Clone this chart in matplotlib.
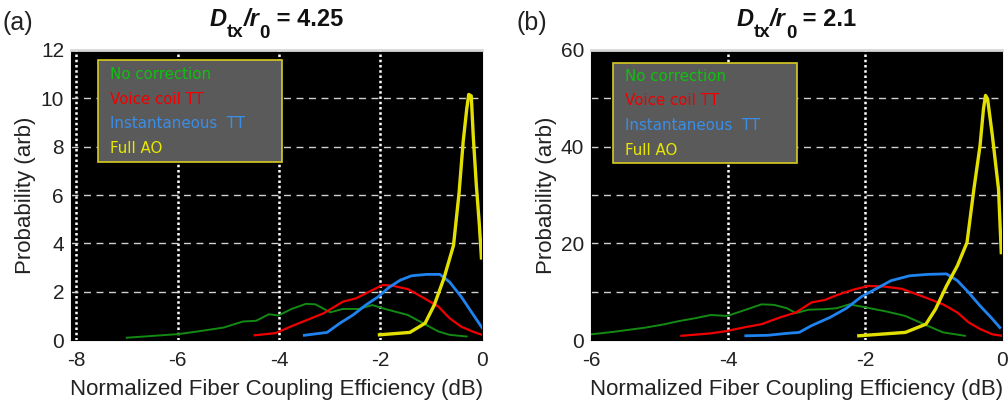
import matplotlib as mpl
import matplotlib.pyplot as plt
from matplotlib.patches import Rectangle
from matplotlib.transforms import IdentityTransform

mpl.rcParams.update(
    {
        "font.family": "sans-serif",
        "font.sans-serif": ["Liberation Sans", "DejaVu Sans"],
        "axes.unicode_minus": False,
    }
)

# ---- panel (a): D_tx/r0 = 4.25 ----
a_green_x = [-7.0, -5.98, -5.60, -5.09, -4.71, -4.45, -4.20, -4.01, -3.75, -3.47, -3.28, -2.99,
             -2.74, -2.42, -2.16, -1.91, -1.46, -1.16, -0.86, -0.64, -0.3]
a_green_y = [0.1, 0.25, 0.36, 0.52, 0.77, 0.80, 1.07, 1.02, 1.29, 1.50, 1.48, 1.15,
             1.29, 1.29, 1.45, 1.29, 1.04, 0.70, 0.36, 0.22, 0.15]
a_red_x = [-4.48, -4.07, -3.69, -3.44, -3.12, -2.74, -2.48, -2.16, -1.95, -1.76, -1.46, -1.16,
           -0.86, -0.64, -0.41, -0.19, 0.0]
a_red_y = [0.2, 0.29, 0.63, 0.84, 1.11, 1.59, 1.73, 2.07, 2.28, 2.25, 2.11, 1.76,
           1.39, 0.91, 0.56, 0.36, 0.22]
a_blue_x = [-3.5, -3.05, -2.80, -2.54, -2.29, -2.04, -1.84, -1.61, -1.39, -1.09, -0.83, -0.64,
            -0.41, -0.19, 0.0]
a_blue_y = [0.2, 0.32, 0.70, 1.04, 1.45, 1.80, 2.17, 2.48, 2.66, 2.72, 2.72, 2.41,
            1.80, 1.11, 0.52]
a_yellow_x = [-2.02, -1.42, -1.12, -0.94, -0.75, -0.56, -0.45, -0.37, -0.30, -0.26, -0.21, -0.17,
              -0.11, -0.05, -0.01]
a_yellow_y = [0.22, 0.32, 0.70, 1.45, 2.55, 3.92, 6.1, 8.2, 9.55, 10.16, 10.1, 8.4,
              6.4, 4.75, 3.4]

# ---- panel (b): D_tx/r0 = 2.1 ----
b_green_x = [-6.0, -5.68, -5.20, -4.92, -4.73, -4.49, -4.25, -4.01, -3.78, -3.51, -3.33, -3.14,
             -3.01, -2.82, -2.59, -2.41, -2.23, -2.0, -1.68, -1.41, -1.14, -0.86, -0.54]
b_green_y = [1.2, 1.7, 2.6, 3.3, 3.9, 4.5, 5.2, 5.0, 6.1, 7.4, 7.3, 6.6,
             5.6, 6.3, 6.4, 6.6, 7.4, 6.8, 5.9, 5.0, 3.3, 1.6, 0.9]
b_red_x = [-4.68, -4.25, -4.01, -3.78, -3.51, -3.24, -3.01, -2.78, -2.59, -2.41, -2.18, -1.95,
           -1.73, -1.46, -1.19, -0.86, -0.65, -0.49, -0.32, -0.14, 0.0]
b_red_y = [0.9, 1.4, 1.9, 2.6, 3.3, 4.7, 5.7, 7.8, 8.3, 9.3, 10.4, 11.2,
           11.1, 10.6, 9.2, 7.4, 5.7, 3.7, 2.3, 1.2, 0.9]
b_blue_x = [-3.74, -3.42, -3.14, -2.96, -2.78, -2.51, -2.27, -2.05, -1.84, -1.62, -1.35, -1.08,
            -0.81, -0.65, -0.49, -0.32, -0.16, -0.03]
b_blue_y = [0.9, 1.0, 1.4, 1.6, 3.0, 4.7, 6.6, 9.0, 10.6, 12.3, 13.3, 13.6,
            13.7, 12.3, 9.9, 7.1, 4.7, 2.6]
b_yellow_x = [-2.09, -1.41, -1.11, -0.97, -0.81, -0.65, -0.51, -0.41, -0.32, -0.27, -0.24, -0.21,
              -0.14, -0.05, -0.01]
b_yellow_y = [0.9, 1.6, 3.3, 6.4, 11.2, 15.4, 20.2, 31.2, 40.2, 47.8, 50.6, 49.9,
              42.3, 31.2, 18.1]

labels = ["No correction", "Voice coil TT", "Instantaneous  TT", "Full AO"]
line_colors = ["#138a13", "#f00000", "#1f83f0", "#e2e000"]
text_colors = ["#10c010", "#f00000", "#3a8ee8", "#e8e800"]
line_widths = [1.4, 1.6, 2.0, 2.4]

panels = [
    dict(tag="(a)", ratio="4.25",
         xlim=(-8.1, 0), xticks=[-8, -6, -4, -2, 0], vgrid=[-8, -6, -4, -2],
         ylim=(0, 12), yticks=[0, 2, 4, 6, 8, 10, 12], hgrid=[2, 4, 6, 8, 10],
         series=[(a_green_x, a_green_y), (a_red_x, a_red_y), (a_blue_x, a_blue_y), (a_yellow_x, a_yellow_y)],
         rect=(0.0704, 0.156, 0.4077, 0.72), leg=(0.066, 0.614, 0.447, 0.352), txt_x=0.095,
         rows=[0.917, 0.831, 0.748, 0.662], tag_x=3),
    dict(tag="(b)", ratio="2.1",
         xlim=(-6, 0), xticks=[-6, -4, -2, 0], vgrid=[-4, -2],
         ylim=(0, 60), yticks=[0, 20, 40, 60], hgrid=[10, 20, 30, 40, 50],
         series=[(b_green_x, b_green_y), (b_red_x, b_red_y), (b_blue_x, b_blue_y), (b_yellow_x, b_yellow_y)],
         rect=(0.5863, 0.156, 0.4077, 0.72), leg=(0.054, 0.61, 0.447, 0.345), txt_x=0.083,
         rows=[0.91, 0.826, 0.74, 0.653], tag_x=516),
]

fig = plt.figure(figsize=(10.08, 4.03), dpi=100)
renderer = fig.canvas.get_renderer()
H = fig.bbox.height


def draw_title(ax, ratio):
    # D_tx / r_0 = value, built piece by piece so subscripts can be larger than mathtext's
    pieces = [("D", 17, "italic", 0), ("tx", 13.5, "normal", -11), ("/r", 17, "italic", 0),
              ("0", 13.5, "normal", -12), (" = " + ratio, 17, "normal", 0)]
    base = H - 26
    texts = []
    for s, size, style, dy in pieces:
        t = fig.text(0, base + dy, s, fontsize=size, fontweight="bold", fontstyle=style,
                     va="baseline", ha="left", transform=IdentityTransform(), color="#111111")
        texts.append(t)
    widths = [t.get_window_extent(renderer).width for t in texts]
    bb = ax.get_window_extent(renderer)
    x = (bb.x0 + bb.x1) / 2 - sum(widths) / 2
    for t, w in zip(texts, widths):
        t.set_x(x)
        x += w


for p in panels:
    ax = fig.add_axes(p["rect"])
    ax.set_facecolor("black")
    ax.set_xlim(*p["xlim"])
    ax.set_ylim(*p["ylim"])
    ax.set_xticks(p["xticks"])
    ax.set_yticks(p["yticks"])
    ax.tick_params(length=0, labelsize=15, colors="#222222")
    ax.tick_params(axis="x", pad=8)
    ax.tick_params(axis="y", pad=5)

    for gx in p["vgrid"]:
        ax.axvline(gx, color="white", lw=1.8, ls=(0, (1, 1.1)), zorder=1)
    for gy in p["hgrid"]:
        ax.axhline(gy, color="#d0d0d0", lw=1.0, ls=(0, (5, 4)), zorder=1)

    for (xs, ys), c, lw in zip(p["series"], line_colors, line_widths):
        ax.plot(xs, ys, color=c, lw=lw, zorder=3)

    lx, ly, lw_, lh = p["leg"]
    ax.add_patch(Rectangle((lx, ly), lw_, lh, transform=ax.transAxes, facecolor="#5a5a5a",
                           edgecolor="#d8cc20", lw=1.2, zorder=5))
    for lab, tc, ry in zip(labels, text_colors, p["rows"]):
        ax.text(p["txt_x"], ry, lab, transform=ax.transAxes, color=tc, fontsize=10.8,
                family="DejaVu Sans", va="center", ha="left", zorder=6)

    for side in ["left", "right", "bottom"]:
        ax.spines[side].set_color("black")
    ax.spines["top"].set_color("#d8d8d8")
    ax.spines["top"].set_linewidth(2.0)

    ax.set_xlabel("Normalized Fiber Coupling Efficiency (dB)", fontsize=16, color="#222222", labelpad=6)
    ax.set_ylabel("Probability (arb)", fontsize=16, color="#222222", labelpad=3)

    draw_title(ax, p["ratio"])
    fig.text(p["tag_x"], H - 23, p["tag"], fontsize=18, color="#222222", va="center", ha="left",
             transform=IdentityTransform())

fig.savefig("out.png", dpi=100)
